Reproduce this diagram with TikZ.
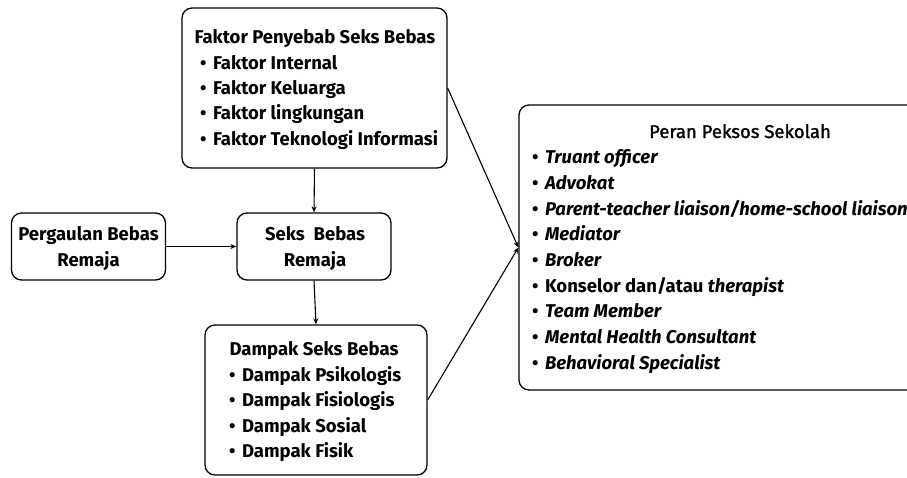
\documentclass[tikz,border=0pt]{standalone}
\usepackage{fontspec}
\setmainfont{Fira Sans}
\usetikzlibrary{arrows.meta}
\tikzset{
  box/.style={draw, line width=1.3pt, rounded corners=10pt, inner sep=0pt},
  txt/.style={inner sep=0pt, anchor=base west, font=\fontsize{18.5}{22}\selectfont\bfseries},
  ttl/.style={inner sep=0pt, anchor=base, font=\fontsize{18.5}{22}\selectfont\bfseries},
  medttl/.style={inner sep=0pt, anchor=base, font=\fontsize{18.5}{22}\selectfont\addfontfeature{FakeBold=1.6}},
  conn/.style={line width=1.1pt, -{Stealth[length=6pt,width=5pt]}},
}
\newcommand{\bul}{\textbullet\hspace{0.35em}}
\begin{document}
\begin{tikzpicture}[x=1pt,y=-1pt]
\useasboundingbox (0,0) rectangle (907,477);
\clip (0,0) rectangle (907,477);
% boxes
\node[box, minimum width=265pt, minimum height=160pt] (top) at (314.5,88) {};
\node[box, minimum width=154pt, minimum height=67pt] (left) at (88.5,246.5) {};
\node[box, minimum width=154pt, minimum height=67pt] (mid) at (314,246.5) {};
\node[box, minimum width=222pt, minimum height=150pt] (bot) at (316,400) {};
\node[box, minimum width=441pt, minimum height=285pt] (right) at (739.5,247.5) {};
% top text
\node[ttl] (t0) at (315,43) {Faktor Penyebab Seks Bebas};
\node[txt] (t1) at (200,69) {\bul Faktor Internal};
\node[txt] (t2) at (200,94) {\bul Faktor Keluarga};
\node[txt] (t3) at (200,119) {\bul Faktor lingkungan};
\node[txt] (t4) at (200,145) {\bul Faktor Teknologi Informasi};
% left text
\node[ttl] (l0) at (88.5,240) {Pergaulan Bebas};
\node[ttl] (l1) at (88.5,266) {Remaja};
% mid text
\node[ttl] (m0) at (315,240) {Seks\ \ Bebas};
\node[ttl] (m1) at (315,266) {Remaja};
% bottom text
\node[ttl] (b0) at (314,355) {Dampak Seks Bebas};
\node[txt] (b1) at (229,381) {\bul Dampak Psikologis};
\node[txt] (b2) at (229,406) {\bul Dampak Fisiologis};
\node[txt] (b3) at (229,432) {\bul Dampak Sosial};
\node[txt] (b4) at (229,457) {\bul Dampak Fisik};
% right text
\node[medttl] (r0) at (740,138) {Peran Peksos Sekolah};
\node[txt] (r1) at (532,163) {\bul\textit{Truant officer}};
\node[txt] (r2) at (532,189) {\bul\textit{Advokat}};
\node[txt] (r3) at (532,215) {\bul\textit{Parent-teacher liaison/home-school liaison}};
\node[txt] (r4) at (532,240) {\bul\textit{Mediator}};
\node[txt] (r5) at (532,266) {\bul\textit{Broker}};
\node[txt] (r6) at (532,292) {\bul Konselor dan/atau \textit{therapist}};
\node[txt] (r7) at (532,317) {\bul\textit{Team Member}};
\node[txt] (r8) at (532,343) {\bul\textit{Mental Health Consultant}};
\node[txt] (r9) at (532,369) {\bul\textit{Behavioral Specialist}};
% connectors
\draw[conn] (top.south) -- (mid.north);
\draw[conn] (left.east) -- (mid.west);
\draw[conn] (mid.south) -- (bot.north);
\draw[conn] (top.east) -- (right.west);
\draw[conn] (bot.east) -- (right.west);
\end{tikzpicture}
\end{document}
